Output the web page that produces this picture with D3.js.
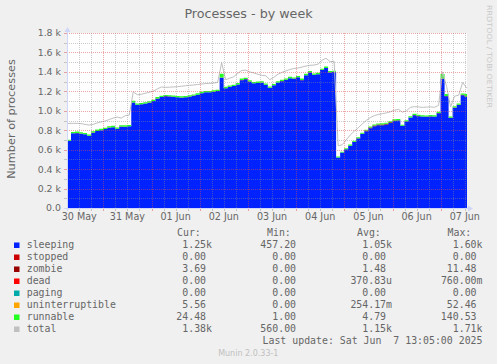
<html>
<head>
<script src="https://cdnjs.cloudflare.com/ajax/libs/d3/7.8.5/d3.min.js"></script>
<style>
body{margin:0;background:#f0f0f0;}
text{font-family:"DejaVu Sans";fill:#666666;}
.mono{font-family:"DejaVu Sans Mono";font-size:9.9px;white-space:pre;}
</style>
</head>
<body>
<svg width="497" height="364"></svg>
<script>
// time window of the munin "week" graph (UTC stands in for local time)
var startTime = new Date(Date.UTC(2025, 4, 30, 5, 55));
var endTime = new Date(Date.UTC(2025, 5, 7, 13, 5));
var stepHours = 2;

// samples every 2 hours, first one centred one hour before the window
var sleeping = [690,690,768,770,765,758,742,775,792,800,
	812,826,830,815,837,836,840,1085,1062,1067,
	1075,1083,1100,1125,1142,1150,1148,1143,1138,1135,
	1138,1145,1155,1165,1180,1190,1190,1195,1203,1340,
	1231,1245,1255,1270,1315,1325,1299,1282,1285,1289,
	1268,1235,1262,1290,1305,1317,1334,1330,1345,1315,
	1365,1395,1370,1375,1420,1440,1395,1400,520,570,
	605,640,680,715,760,790,820,840,850,852,
	860,875,895,900,845,890,930,955,945,940,
	938,942,940,975,1330,1150,925,1030,1060,1160,
	1145,1145];
var zombie = [1,1,1,1,1,1,1,1,1,1,
	1,1,1,1,1,1,1,1,1,1,
	1,1,1,1,1,1,1,1,1,1,
	1,1,1,1,1,1,1,1,1,2,
	1,1,1,1,1,1,1,1,1,1,
	1,1,1,1,1,1,1,1,1,1,
	1,1,1,1,1,1,1,1,0,0,
	0,1,2,3,5,7,8,8,8,8,
	7,7,6,3,2,2,2,2,2,2,
	2,2,2,2,3,3,3,3,3,4,
	4,4];
var runnable = [12,12,14,15,14,13,12,14,15,14,
	13,14,15,12,14,13,14,16,12,13,
	12,14,13,15,12,11,12,13,12,14,
	12,13,12,14,15,13,12,14,13,40,
	14,13,12,15,16,14,13,12,14,13,
	12,15,13,14,12,13,14,12,13,15,
	14,12,13,14,12,14,13,12,10,9,
	10,11,10,11,10,9,10,11,10,12,
	11,10,11,12,10,11,12,13,12,11,
	12,12,13,14,45,20,12,14,13,15,
	24,24];
var total = [870,870,871,871,868,860,853,860,875,885,
	895,910,925,935,925,950,955,1195,1165,1170,
	1180,1190,1203,1225,1245,1241,1243,1245,1248,1252,
	1258,1262,1265,1270,1275,1280,1282,1285,1292,1495,
	1320,1335,1350,1385,1415,1418,1400,1390,1375,1365,
	1360,1320,1345,1375,1395,1410,1425,1435,1440,1450,
	1460,1468,1470,1480,1520,1540,1505,1510,640,650,
	700,750,790,825,865,900,930,950,962,970,
	978,990,1005,1015,985,1000,1035,1042,1040,1035,
	1038,1040,1036,1055,1400,1250,1040,1150,1160,1290,
	1235,1235];

// legend
var names = ["sleeping","stopped","zombie","dead","paging","uninterruptible","runnable","total"];
var colours = ["#0022ff","#cc0000","#990000","#ff0000","#00aaaa","#ffa500","#22ff22","#c0c0c0"];
var curVals = ["1.25k","0.00","3.69","0.00","0.00","5.56","24.48","1.38k"];
var minVals = ["457.20","0.00","0.00","0.00","0.00","0.00","1.00","560.00"];
var avgVals = ["1.05k","0.00","1.48","370.83u","0.00","254.17m","4.79","1.15k"];
var maxVals = ["1.60k","0.00","11.48","760.00m","0.00","52.46","140.53","1.71k"];
var lastUpdate = "Last update: Sat Jun  7 13:05:00 2025";

var svg = d3.select("svg");
var colourOf = {};
names.forEach(function(n, i){ colourOf[n] = colours[i]; });

var x = d3.scaleUtc().domain([startTime, endTime]).range([67, 467]);
var y = d3.scaleLinear().domain([0, 1800]).range([208, 33]);

var times = sleeping.map(function(d, i){
	return new Date(startTime.getTime() + (i * stepHours - 1) * 3600e3);
});
var rows = times.map(function(t, i){
	return {t: t, sleeping: sleeping[i], zombie: zombie[i], runnable: runnable[i], total: total[i]};
});

svg.append("rect").attr("width", 497).attr("height", 364).attr("fill", "#f0f0f0");
svg.append("rect").attr("x", 67).attr("y", 33).attr("width", 400).attr("height", 175).attr("fill", "#ffffff");

svg.append("clipPath").attr("id", "plot").append("rect")
	.attr("x", 67).attr("y", 30).attr("width", 400).attr("height", 178);

var series = d3.stack().keys(["sleeping", "zombie", "runnable"])(rows);
var area = d3.area().curve(d3.curveStep)
	.x(function(d){ return x(d.data.t); })
	.y0(function(d){ return y(d[0]); })
	.y1(function(d){ return y(d[1]); });

var plot = svg.append("g").attr("clip-path", "url(#plot)");
plot.selectAll("path.area").data(series).enter().append("path")
	.attr("class", "area")
	.attr("fill", function(s){ return colourOf[s.key]; })
	.attr("d", area);

plot.append("path").datum(rows)
	.attr("fill", "none").attr("stroke", colourOf.total).attr("stroke-width", 1)
	.attr("d", d3.line()
		.x(function(d){ return x(d.t); })
		.y(function(d){ return y(d.total); }));

// grid on top of the data, like rrdtool
var minorCol = "rgba(143,143,143,0.45)", majorCol = "rgba(222,79,79,0.5)";
var grid = svg.append("g");
y.ticks(18).forEach(function(v){
	if (v === 0) return;
	var major = v % 200 === 0;
	var yy = Math.round(y(v)) + 0.5;
	grid.append("line").attr("x1", 67).attr("x2", 467).attr("y1", yy).attr("y2", yy)
		.attr("stroke", major ? majorCol : minorCol).attr("stroke-dasharray", "1,1");
	grid.append("line").attr("x1", 64).attr("x2", 67).attr("y1", yy).attr("y2", yy)
		.attr("stroke", major ? majorCol : minorCol);
});
d3.utcHour.every(6).range(startTime, endTime).forEach(function(t){
	var major = t.getUTCHours() === 0;
	var xx = Math.round(x(t)) + 0.5;
	grid.append("line").attr("x1", xx).attr("x2", xx).attr("y1", 33).attr("y2", 208)
		.attr("stroke", major ? majorCol : minorCol).attr("stroke-dasharray", "1,1");
	grid.append("line").attr("x1", xx).attr("x2", xx).attr("y1", 208).attr("y2", 211)
		.attr("stroke", major ? majorCol : minorCol);
});

// axes and arrows
var axisCol = "#cfd6f8";
svg.append("line").attr("x1", 64).attr("x2", 470).attr("y1", 208.5).attr("y2", 208.5).attr("stroke", axisCol);
svg.append("line").attr("x1", 67.5).attr("x2", 67.5).attr("y1", 211).attr("y2", 30).attr("stroke", axisCol);
svg.append("path").attr("d", "M468,205.5L473,208.5L468,211.5Z").attr("fill", axisCol);
svg.append("path").attr("d", "M64.5,32L67.5,27L70.5,32Z").attr("fill", axisCol);

// y tick labels
y.ticks(9).forEach(function(v){
	svg.append("text").attr("x", 61).attr("y", y(v) + 3.4)
		.attr("text-anchor", "end").style("font-size", "9.4px")
		.text(v === 0 ? "0.0" : (v / 1000).toFixed(1) + " k");
});
// x labels at noon
var fmt = d3.utcFormat("%d %b");
d3.utcDay.range(d3.utcDay.floor(startTime), endTime).forEach(function(d){
	var noon = d3.utcHour.offset(d, 12);
	if (noon < startTime || noon > endTime) return;
	svg.append("text").attr("x", x(noon)).attr("y", 220)
		.attr("text-anchor", "middle").style("font-size", "9.6px").text(fmt(noon));
});

// titles
svg.append("text").attr("x", 248.5).attr("y", 18.3).attr("text-anchor", "middle")
	.style("font-size", "12.7px").text("Processes - by week");
svg.append("text").attr("transform", "translate(14.5,119) rotate(-90)")
	.attr("text-anchor", "middle").style("font-size", "11.3px").text("Number of processes");
svg.append("text").attr("transform", "translate(486.7,5) rotate(90)")
	.attr("textLength", 103).attr("lengthAdjust", "spacingAndGlyphs")
	.style("font-size", "7px").style("fill", "#c8c8c8").text("RRDTOOL / TOBI OETIKER");
svg.append("text").attr("x", 248.3).attr("y", 356).attr("text-anchor", "middle")
	.style("font-size", "8px").style("fill", "#c0c0c0").text("Munin 2.0.33-1");

// legend
var charW = 5.96;
var heads = ["Cur:", "Min:", "Avg:", "Max:"];
var colRight = [212, 302, 392, 482.5];
var cols = [curVals, minVals, avgVals, maxVals];
heads.forEach(function(h, c){
	svg.append("text").attr("class", "mono").attr("x", colRight[c] - 35).attr("y", 236).text(h);
});
names.forEach(function(n, i){
	var base = 248.3 + 12 * i;
	svg.append("rect").attr("x", 14).attr("y", base - 5.8).attr("width", 5.5).attr("height", 5.5)
		.attr("fill", colours[i]);
	svg.append("text").attr("class", "mono").attr("x", 26.7).attr("y", base).text(n);
	cols.forEach(function(vals, c){
		var s = vals[i];
		var r = /[a-zA-Z]$/.test(s) ? colRight[c] : colRight[c] - charW;
		svg.append("text").attr("class", "mono").attr("x", r).attr("y", base)
			.attr("text-anchor", "end").text(s);
	});
});
svg.append("text").attr("class", "mono").attr("x", 482.5).attr("y", 343.5)
	.attr("text-anchor", "end").text(lastUpdate);
</script>
</body>
</html>
